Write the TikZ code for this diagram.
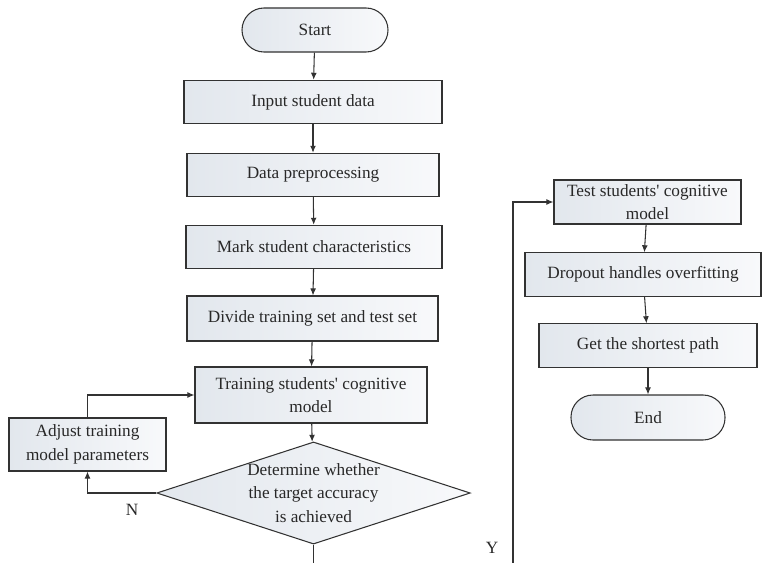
\documentclass[tikz,border=0pt]{standalone}
\usepackage{fontspec}
\setmainfont{Liberation Serif}
\usetikzlibrary{positioning,shapes,arrows.meta,calc}
\definecolor{BoxLeft}{RGB}{226,231,237}
\definecolor{BoxRight}{RGB}{248,249,251}
\definecolor{LineGray}{RGB}{50,50,50}
\definecolor{TextGray}{RGB}{40,40,40}
\tikzset{>={Latex[length=6pt,width=5pt]}}
\tikzset{base/.style={draw=LineGray,line width=0.9pt,left color=BoxLeft,right color=BoxRight,
    text=TextGray,align=center,inner sep=2pt,font=\fontsize{14.7}{20}\selectfont}}
\tikzset{procbox/.style={base,rectangle,minimum height=1.3cm}}
\tikzset{termbox/.style={base,rectangle,rounded corners=0.66cm,minimum height=1.32cm}}
\tikzset{decbox/.style={base,diamond,aspect=3.07,inner sep=0pt,minimum width=9.39cm,minimum height=3.06cm}}
\tikzset{flow/.style={draw=LineGray,line width=0.9pt,->}}
\tikzset{yn/.style={text=TextGray,font=\fontsize{14.7}{17}\selectfont}}
\begin{document}
\begin{tikzpicture}[x=0.03cm,y=-0.03cm]

    \clip (0,0) rectangle (762,562);

    \node[termbox, minimum width=4.38cm] (start) at (315,30) {Start};
    \node[procbox, minimum width=7.74cm] (input) at (313,102) {Input student data};
    \node[procbox, minimum width=7.56cm] (prep) at (313,175) {Data preprocessing};
    \node[procbox, minimum width=7.68cm] (mark) at (314,247) {Mark student characteristics};
    \node[procbox, minimum width=7.53cm, minimum height=1.35cm] (divide) at (312.5,318.5) {Divide training set and test set};
    \node[procbox, minimum width=6.96cm, minimum height=1.68cm] (train) at (311,395) {Training students\textquotesingle{} cognitive\\model};
    \node[procbox, minimum width=4.71cm, minimum height=1.59cm] (adjust) at (87.5,444.5) {Adjust training\\model parameters};
    \node[decbox] (judge) at (313.5,493) {Determine whether\\the target accuracy\\is achieved};

    \node[procbox, minimum width=5.61cm, minimum height=1.32cm] (test) at (647.5,202) {Test students\textquotesingle{} cognitive\\model};
    \node[procbox, minimum width=7.08cm] (dropout) at (643,274.5) {Dropout handles overfitting};
    \node[procbox, minimum width=6.54cm] (path) at (648,345.5) {Get the shortest path};
    \node[termbox, minimum width=4.62cm, minimum height=1.35cm] (end) at (648,417.5) {End};

    \node[yn] (nlabel) at (132,510) {N};
    \node[yn] (ylabel) at (492,548) {Y};
    \coordinate (yturn) at (513,600);

    \foreach \i/\j in {start/input, input/prep, prep/mark, mark/divide, divide/train, train/judge,
                       test/dropout, dropout/path, path/end} {
        \draw[flow] (\i) -- (\j);
    }
    \draw[flow] (judge.west) -| (adjust.south);
    \draw[flow] (adjust.north) |- (train.west);
    \draw[flow] (judge.south) |- (yturn) |- (test.west);

\end{tikzpicture}
\end{document}
